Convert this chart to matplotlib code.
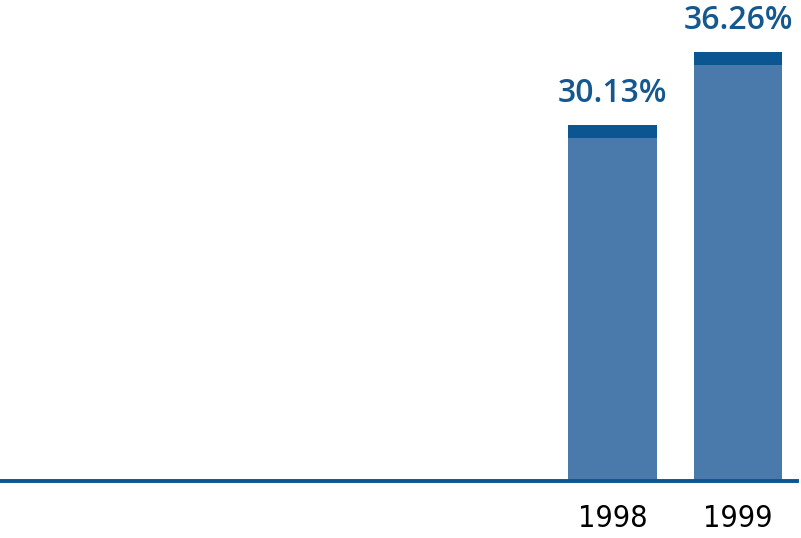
import matplotlib
matplotlib.use("Agg")
import matplotlib.pyplot as plt
from matplotlib import font_manager
import numpy as np

years = ["1998", "1999"]
values = [30.13, 36.26]
labels = ["30.13%", "36.26%"]

bar_color = "#4a7aab"
cap_color = "#0b5590"
text_color = "#14588f"

narrow = sorted({f.name + "|" + str(f.stretch) for f in font_manager.fontManager.ttflist
                 if "ondensed" in f.fname or "arrow" in f.fname or f.stretch not in ("normal", 400)})
print(narrow)

fig = plt.figure(figsize=(8.01, 5.38), dpi=100)
ax = fig.add_axes([0, 57 / 538, 1, 481 / 538])

x = np.arange(len(years))
width = 0.709
cap = 1.1  # dark band on top of each bar

ax.bar(x, values, width=width, color=bar_color, linewidth=0)
ax.bar(x, [cap] * len(values), bottom=np.array(values) - cap, width=width,
       color=cap_color, linewidth=0)

ax.axhline(0, xmin=0, xmax=797 / 801, color=cap_color, linewidth=2.8, clip_on=False)

for xi, v, lab in zip(x, values, labels):
    ax.annotate(lab, xy=(xi, v), xytext=(0, 16.5), textcoords="offset points",
                ha="center", va="baseline", fontsize=23, fontweight="semibold",
                family=["Open Sans", "DejaVu Sans"], color=text_color)

for xi, yr in zip(x, years):
    ax.annotate(yr, xy=(xi, 0), xytext=(0, -33), textcoords="offset points",
                ha="center", va="baseline", fontsize=22, fontstretch="condensed",
                family=["Liberation Sans Narrow", "DejaVu Sans"], color="black")

ax.set_xlim(-612.5 / 125.5, 1 + 63 / 125.5)
ax.set_ylim(0, 481 / 11.82)
ax.axis("off")

fig.savefig("out.png", dpi=100)
